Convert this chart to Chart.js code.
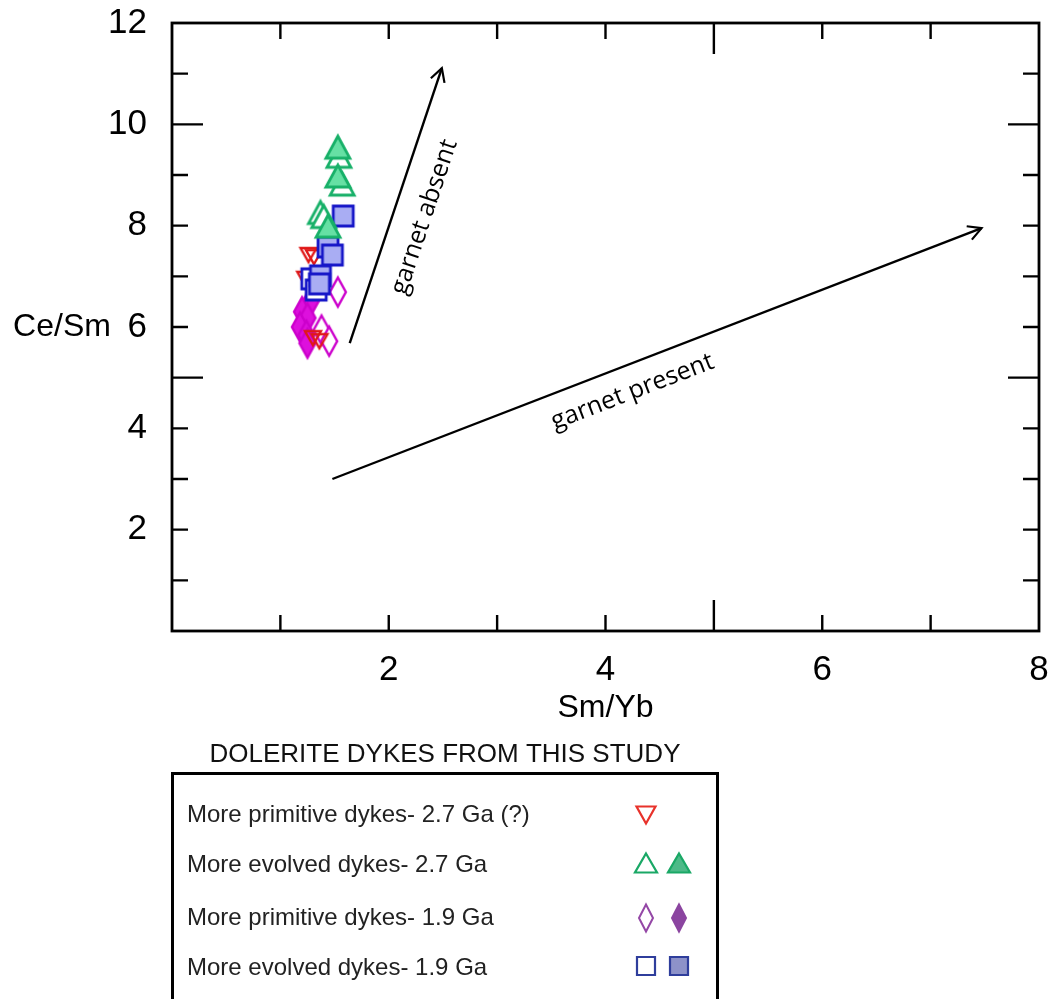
<!DOCTYPE html>
<html>
<head>
<meta charset="utf-8">
<title>Ce/Sm vs Sm/Yb — dolerite dykes</title>
<script src="https://cdn.jsdelivr.net/npm/chart.js@4.4.1/dist/chart.umd.min.js"></script>
<style>
  html, body { margin: 0; padding: 0; background: #ffffff; }
  #wrap { width: 1050px; height: 999px; position: relative; }
</style>
</head>
<body>
<div id="wrap"><canvas id="chart" width="1050" height="999"></canvas></div>
<script>
// ---- Sm/Yb (x) and Ce/Sm (y) per dyke group ----
// More primitive dykes, 2.7 Ga (?) — open inverted triangles
const prim27SmYb = [1.26, 1.31, 1.23, 1.30, 1.36];
const prim27CeSm = [7.42, 7.38, 6.95, 5.78, 5.72];

// More evolved dykes, 2.7 Ga — open and filled triangles
const evol27OpenSmYb = [1.54, 1.57, 1.37, 1.40];
const evol27OpenCeSm = [9.37, 8.82, 8.26, 8.18];
const evol27FilledSmYb = [1.53, 1.53, 1.44];
const evol27FilledCeSm = [9.55, 8.98, 7.99];

// More primitive dykes, 1.9 Ga — open and filled diamonds
const prim19OpenSmYb = [1.53, 1.38, 1.45];
const prim19OpenCeSm = [6.69, 5.94, 5.72];
const prim19FilledSmYb = [1.28, 1.20, 1.25, 1.18, 1.24, 1.25];
const prim19FilledCeSm = [6.51, 6.30, 6.18, 6.00, 5.84, 5.68];

// More evolved dykes, 1.9 Ga — open and filled squares
const evol19OpenSmYb = [1.29, 1.33];
const evol19OpenCeSm = [6.95, 6.73];
const evol19FilledSmYb = [1.58, 1.44, 1.48, 1.37, 1.36];
const evol19FilledCeSm = [8.19, 7.58, 7.42, 7.01, 6.85];

// Melting trend arrows (start, end) and their captions
const garnetAbsentSmYb = [1.64, 2.49];
const garnetAbsentCeSm = [5.68, 11.11];
const garnetPresentSmYb = [1.48, 7.47];
const garnetPresentCeSm = [3.00, 7.95];
const trendCaptions = ['garnet absent', 'garnet present'];
const trendCaptionSmYb = [2.33, 4.25];
const trendCaptionCeSm = [8.17, 4.72];

// Axes
const xAxisTitle = 'Sm/Yb';
const yAxisTitle = 'Ce/Sm';
const xTickLabels = [2, 4, 6, 8];
const yTickLabels = [2, 4, 6, 8, 10, 12];

// Key
const keyTitle = 'DOLERITE DYKES FROM THIS STUDY';
const keyLabels = [
  'More primitive dykes- 2.7 Ga (?)',
  'More evolved dykes- 2.7 Ga',
  'More primitive dykes- 1.9 Ga',
  'More evolved dykes- 1.9 Ga'
];

const toPoints = (xs, ys) => xs.map((x, i) => ({ x: x, y: ys[i] }));

// ---- marker sprites ----
function shapePath(ctx, shape, w, h) {
  ctx.beginPath();
  if (shape === 'triUp') {
    ctx.moveTo(0, -h / 2); ctx.lineTo(w / 2, h / 2); ctx.lineTo(-w / 2, h / 2);
  } else if (shape === 'triDown') {
    ctx.moveTo(0, h / 2); ctx.lineTo(w / 2, -h / 2); ctx.lineTo(-w / 2, -h / 2);
  } else if (shape === 'diamond') {
    ctx.moveTo(0, -h / 2); ctx.lineTo(w / 2, 0); ctx.lineTo(0, h / 2); ctx.lineTo(-w / 2, 0);
  } else {
    ctx.rect(-w / 2, -h / 2, w, h);
  }
  ctx.closePath();
}
function drawShape(ctx, shape, x, y, w, h, stroke, fill, lw) {
  ctx.save();
  ctx.translate(x, y);
  shapePath(ctx, shape, w, h);
  ctx.fillStyle = fill;
  ctx.fill();
  ctx.lineWidth = lw;
  ctx.strokeStyle = stroke;
  ctx.lineJoin = 'miter';
  ctx.stroke();
  ctx.restore();
}
function sprite(shape, w, h, stroke, fill, lw) {
  const c = document.createElement('canvas');
  const pad = Math.ceil(lw * 2) + 2;
  c.width = Math.ceil(w) + pad * 2;
  c.height = Math.ceil(h) + pad * 2;
  drawShape(c.getContext('2d'), shape, c.width / 2, c.height / 2, w, h, stroke, fill, lw);
  return c;
}

const GREEN = '#17b068', GREEN_FILL = '#66e0a4';
const BLUE = '#1616c8', BLUE_FILL = '#a9adf3';
const MAGENTA = '#cc00cc', MAGENTA_FILL = '#dd10dd';
const RED = '#e01818';

const mk = {
  triOpen: sprite('triUp', 24, 22, GREEN, '#ffffff', 2.8),
  triFilled: sprite('triUp', 24, 22, GREEN, GREEN_FILL, 2.8),
  sqOpen: sprite('square', 20, 20, BLUE, '#ffffff', 2.8),
  sqFilled: sprite('square', 20, 20, BLUE, BLUE_FILL, 2.8),
  redTri: sprite('triDown', 16, 14, RED, 'rgba(255,255,255,0)', 2.4),
  diaOpen: sprite('diamond', 16, 29, MAGENTA, '#ffffff', 2.4),
  diaFilled: sprite('diamond', 16, 29, MAGENTA, MAGENTA_FILL, 2.4)
};

function scatterSet(label, data, style) {
  return {
    type: 'scatter', label: label, data: data,
    pointStyle: style, pointRadius: 10, pointHoverRadius: 10,
    showLine: false
  };
}
function arrowSet(label, data) {
  return {
    type: 'line', label: label, data: data,
    borderColor: '#000000', borderWidth: 2.4, pointRadius: 0,
    showLine: true, fill: false, tension: 0
  };
}

// ---- frame, inward ticks, arrowheads, captions and key ----
const decorations = {
  id: 'decorations',
  afterDatasetsDraw(chart) {
    const ctx = chart.ctx;
    const a = chart.chartArea;
    const xs = chart.scales.x, ys = chart.scales.y;
    ctx.save();

    // frame
    ctx.strokeStyle = '#000';
    ctx.lineWidth = 2.8;
    ctx.strokeRect(a.left, a.top, a.right - a.left, a.bottom - a.top);

    // inward ticks on all four sides; every fifth unit is long
    ctx.lineWidth = 2.4;
    ctx.beginPath();
    xs.ticks.forEach(t => {
      if (t.value <= xs.min || t.value >= xs.max) return;
      const px = xs.getPixelForValue(t.value);
      const len = t.value % 5 === 0 ? 31 : 16;
      ctx.moveTo(px, a.bottom); ctx.lineTo(px, a.bottom - len);
      ctx.moveTo(px, a.top); ctx.lineTo(px, a.top + len);
    });
    ys.ticks.forEach(t => {
      if (t.value <= ys.min || t.value >= ys.max) return;
      const py = ys.getPixelForValue(t.value);
      const len = t.value % 5 === 0 ? 31 : 16;
      ctx.moveTo(a.left, py); ctx.lineTo(a.left + len, py);
      ctx.moveTo(a.right, py); ctx.lineTo(a.right - len, py);
    });
    ctx.stroke();

    // arrowheads on the trend lines, captions parallel to them
    [7, 8].forEach((di, k) => {
      const pts = chart.getDatasetMeta(di).data;
      const p0 = pts[0], p1 = pts[pts.length - 1];
      const ang = Math.atan2(p1.y - p0.y, p1.x - p0.x);
      const L = 15, spread = 0.5;
      ctx.lineWidth = 2.2;
      ctx.beginPath();
      ctx.moveTo(p1.x - L * Math.cos(ang - spread), p1.y - L * Math.sin(ang - spread));
      ctx.lineTo(p1.x, p1.y);
      ctx.lineTo(p1.x - L * Math.cos(ang + spread), p1.y - L * Math.sin(ang + spread));
      ctx.stroke();

      ctx.save();
      ctx.translate(xs.getPixelForValue(trendCaptionSmYb[k]), ys.getPixelForValue(trendCaptionCeSm[k]));
      ctx.rotate(ang);
      ctx.fillStyle = '#000';
      ctx.font = '25px "Open Sans", "Noto Sans", sans-serif';
      ctx.textAlign = 'center';
      ctx.textBaseline = 'middle';
      ctx.fillText(trendCaptions[k], 0, 0);
      ctx.restore();
    });

    // horizontal y-axis title beside the tick labels
    ctx.fillStyle = '#000';
    ctx.font = '32px "Liberation Sans", Arial, sans-serif';
    ctx.textAlign = 'center';
    ctx.textBaseline = 'middle';
    ctx.fillText(yAxisTitle, 62, ys.getPixelForValue(6));

    // key
    ctx.fillStyle = '#111';
    ctx.font = '26px "Liberation Sans", Arial, sans-serif';
    ctx.fillText(keyTitle, 445, 755);
    ctx.strokeStyle = '#000';
    ctx.lineWidth = 3;
    ctx.strokeRect(172.5, 773.5, 545, 260);

    const rowY = [815, 865, 918, 968];
    ctx.font = '24px "Liberation Sans", Arial, sans-serif';
    ctx.textAlign = 'left';
    ctx.fillStyle = '#222';
    keyLabels.forEach((t, i) => ctx.fillText(t, 187, rowY[i]));

    const c1 = 646, c2 = 679;
    drawShape(ctx, 'triDown', c1, rowY[0], 19, 17, '#e8322b', '#ffffff', 2.2);
    drawShape(ctx, 'triUp', c1, rowY[1] - 2, 22, 19, '#1aa866', '#ffffff', 2.2);
    drawShape(ctx, 'triUp', c2, rowY[1] - 2, 22, 19, '#1aa866', '#4dba88', 2.2);
    drawShape(ctx, 'diamond', c1, rowY[2], 14, 27, '#9447a6', '#ffffff', 2);
    drawShape(ctx, 'diamond', c2, rowY[2], 14, 27, '#8b45a0', '#8b45a0', 2);
    drawShape(ctx, 'square', c1, rowY[3] - 2, 18, 18, '#2f3e9c', '#ffffff', 2.2);
    drawShape(ctx, 'square', c2, rowY[3] - 2, 18, 18, '#2f3e9c', '#8d92c9', 2.2);

    ctx.restore();
  }
};

const tickFont = { family: '"Liberation Sans", Arial, sans-serif', size: 35 };

new Chart(document.getElementById('chart'), {
  data: {
    datasets: [
      scatterSet('More evolved dykes- 2.7 Ga (filled)', toPoints(evol27FilledSmYb, evol27FilledCeSm), mk.triFilled),
      scatterSet('More evolved dykes- 2.7 Ga', toPoints(evol27OpenSmYb, evol27OpenCeSm), mk.triOpen),
      scatterSet('More evolved dykes- 1.9 Ga (filled)', toPoints(evol19FilledSmYb, evol19FilledCeSm), mk.sqFilled),
      scatterSet('More evolved dykes- 1.9 Ga', toPoints(evol19OpenSmYb, evol19OpenCeSm), mk.sqOpen),
      scatterSet('More primitive dykes- 2.7 Ga (?)', toPoints(prim27SmYb, prim27CeSm), mk.redTri),
      scatterSet('More primitive dykes- 1.9 Ga', toPoints(prim19OpenSmYb, prim19OpenCeSm), mk.diaOpen),
      scatterSet('More primitive dykes- 1.9 Ga (filled)', toPoints(prim19FilledSmYb, prim19FilledCeSm), mk.diaFilled),
      arrowSet('garnet absent', toPoints(garnetAbsentSmYb, garnetAbsentCeSm)),
      arrowSet('garnet present', toPoints(garnetPresentSmYb, garnetPresentCeSm))
    ]
  },
  options: {
    responsive: false,
    animation: false,
    events: [],
    devicePixelRatio: 1,
    layout: { padding: { left: 0, top: 23, right: 9, bottom: 268 } },
    plugins: { legend: { display: false }, tooltip: { enabled: false } },
    scales: {
      x: {
        type: 'linear', min: 0, max: 8,
        grid: { display: false, drawTicks: false },
        border: { display: false },
        ticks: {
          stepSize: 1, autoSkip: false, maxRotation: 0, padding: 18,
          color: '#000', font: tickFont,
          callback: v => (xTickLabels.includes(v) ? String(v) : '')
        },
        title: {
          display: true, text: xAxisTitle, color: '#000',
          font: { family: '"Liberation Sans", Arial, sans-serif', size: 32 },
          padding: { top: 0, bottom: 4 }
        },
        afterFit: s => { s.height = 100; s.paddingLeft = 0; s.paddingRight = 0; }
      },
      y: {
        type: 'linear', min: 0, max: 12,
        grid: { display: false, drawTicks: false },
        border: { display: false },
        ticks: {
          stepSize: 1, autoSkip: false, padding: 25,
          color: '#000', font: tickFont,
          callback: v => (yTickLabels.includes(v) ? String(v) : '')
        },
        afterFit: s => { s.width = 172; s.paddingTop = 0; s.paddingBottom = 0; }
      }
    }
  },
  plugins: [decorations]
});
</script>
</body>
</html>
